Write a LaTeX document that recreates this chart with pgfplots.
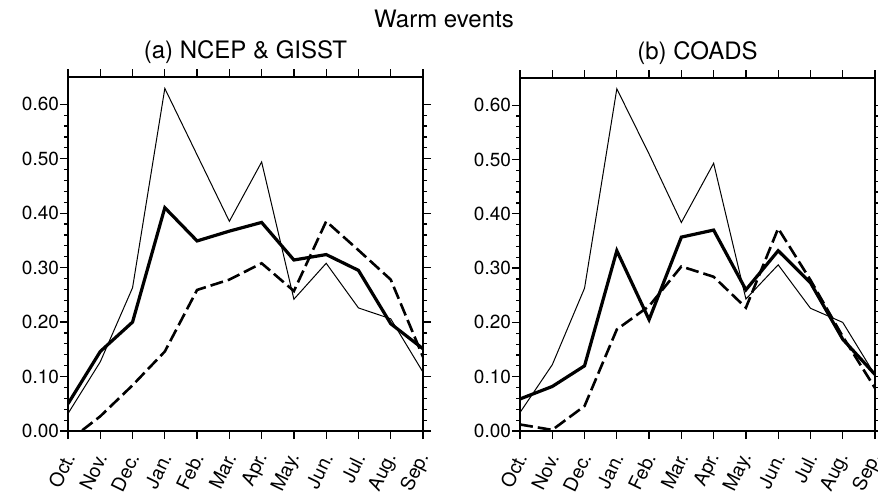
\documentclass[border=0pt]{standalone}
\usepackage{fontspec}
\setmainfont{TeX Gyre Heros}
\usepackage{pgfplots}
\pgfplotsset{compat=1.18}
\usepackage{pgfplotstable}

% columns: month index, thin, thick, dashed
\pgfplotstableread{
m thin thick dash
0 0.032 0.050 -0.019
1 0.127 0.146 0.027
2 0.263 0.200 0.084
3 0.629 0.410 0.146
4 0.507 0.349 0.259
5 0.385 0.367 0.278
6 0.494 0.383 0.308
7 0.242 0.314 0.257
8 0.308 0.324 0.385
9 0.226 0.295 0.332
10 0.206 0.197 0.278
11 0.108 0.151 0.136
}\ncep

\pgfplotstableread{
m thin thick dash
0 0.034 0.059 0.012
1 0.122 0.082 0.002
2 0.263 0.120 0.046
3 0.630 0.332 0.187
4 0.510 0.205 0.230
5 0.384 0.357 0.303
6 0.493 0.370 0.284
7 0.243 0.260 0.227
8 0.306 0.332 0.373
9 0.226 0.273 0.278
10 0.200 0.169 0.174
11 0.103 0.104 0.079
}\coads

\pgfplotsset{
  warm/.style={
    scale only axis,
    width=177.5pt, height=177pt,
    xmin=0, xmax=11, ymin=0, ymax=0.65,
    xtick={0,...,11},
    xticklabels={Oct.,Nov.,Dec.,Jan.,Feb.,Mar.,Apr.,May.,Jun.,Jul.,Aug.,Sep.},
    ytick={0,0.1,...,0.61},
    minor y tick num=4,
    tick align=outside,
    major tick length=4pt,
    minor tick length=2pt,
    axis line style={line width=0.8pt},
    every tick/.style={black, line width=0.6pt},
    yticklabel style={font=\fontsize{9.5}{11}\selectfont, xshift=3pt},
    /pgf/number format/.cd, fixed, fixed zerofill, precision=2, assume math mode=true,
    /pgfplots/.cd,
    xticklabel style={font=\fontsize{9.6}{11}\selectfont, rotate=64, anchor=east,
      inner sep=0pt, xshift=-6.5pt, yshift=-4pt},
    every axis title/.style={at={(0.5,1)}, anchor=base, yshift=9.5pt, font=\fontsize{12}{14}\selectfont},
    clip=true,
  },
  thinl/.style={black, line width=0.5pt},
  thickl/.style={black, line width=1.6pt},
  dashl/.style={black, line width=1.3pt, dash pattern=on 6.5pt off 2.5pt},
}

\begin{document}
\begin{tikzpicture}
\useasboundingbox (0,0) rectangle (439pt,246.5pt);
\node[font=\fontsize{12}{14}\selectfont, anchor=base] at (222pt,232.5pt) {Warm events};

\begin{axis}[warm, at={(34pt,31pt)}, anchor=south west, title={(a) NCEP \& GISST}]
\addplot[thinl] table[x=m, y=thin] {\ncep};
\addplot[thickl] table[x=m, y=thick] {\ncep};
\addplot[dashl] table[x=m, y=dash] {\ncep};
\end{axis}

\begin{axis}[warm, at={(260pt,31pt)}, anchor=south west, height=176.5pt, title={(b) COADS}]
\addplot[thinl] table[x=m, y=thin] {\coads};
\addplot[thickl] table[x=m, y=thick] {\coads};
\addplot[dashl] table[x=m, y=dash] {\coads};
\end{axis}
\end{tikzpicture}
\end{document}
